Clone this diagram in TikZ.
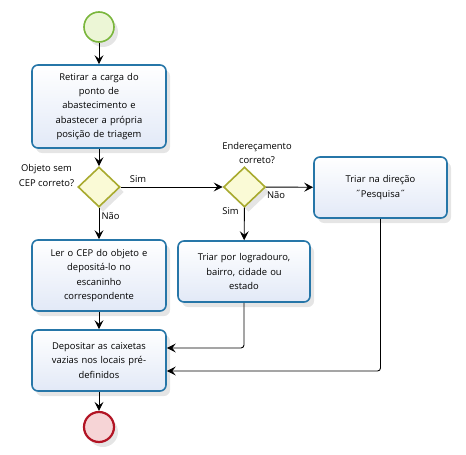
\documentclass[tikz,border=0pt]{standalone}
\usepackage{fontspec}
\setmainfont{Open Sans}
\usetikzlibrary{shapes.geometric,arrows.meta,shadows,backgrounds,calc}
\definecolor{boxborder}{RGB}{38,118,168}
\definecolor{boxfill}{RGB}{226,233,247}
\definecolor{gwborder}{RGB}{168,170,46}
\definecolor{gwfill}{RGB}{250,250,214}
\definecolor{stborder}{RGB}{122,182,60}
\definecolor{stfill}{RGB}{236,246,214}
\definecolor{enborder}{RGB}{178,20,36}
\definecolor{enfill}{RGB}{246,212,214}
\definecolor{shcol}{RGB}{232,232,232}
\tikzset{
  x=1pt, y=-1pt,
  every node/.style={font=\fontsize{9.4}{14.4}\selectfont},
  softshadow/.style={drop shadow={shadow xshift=4pt, shadow yshift=-5pt, fill=black, opacity=0.10}},
  taskbox/.style={draw=boxborder, line width=1.6pt, rounded corners=6pt,
    top color=white, bottom color=boxfill, align=center, inner sep=2pt, softshadow},
  gateway/.style={diamond, draw=gwborder, line width=1.6pt, fill=gwfill,
    minimum width=42pt, minimum height=40pt, inner sep=0pt, softshadow},
  startev/.style={circle, draw=stborder, line width=1.6pt, fill=stfill,
    minimum size=30pt, inner sep=0pt, softshadow},
  endev/.style={circle, draw=enborder, line width=2.2pt, fill=enfill,
    minimum size=30pt, inner sep=0pt, softshadow},
  conn/.style={draw=black, line width=0.9pt, rounded corners=3pt,
    -{Stealth[length=9pt,width=9pt,inset=3.5pt]}},
  connsh/.style={draw=shcol, line width=0.9pt, rounded corners=3pt,
    -{Stealth[length=9pt,width=9pt,inset=3.5pt]}},
  lbl/.style={align=center, inner sep=0pt}
}
\begin{document}
\begin{tikzpicture}
\useasboundingbox[fill=white] (0,0) rectangle (466,455);
\node[startev] (start) at (99,27) {};
\node[taskbox, minimum width=134pt, minimum height=83pt, text width=126pt] (b1) at (99,106.5)
  {Retirar a carga do\\ponto de\\abastecimento e\\abastecer a própria\\posição de triagem};
\node[gateway] (d1) at (99,187) {};
\node[gateway] (d2) at (244.5,187) {};
\node[taskbox, minimum width=133pt, minimum height=61pt, text width=125pt] (pesq) at (380.5,187.5)
  {Triar na direção\\˝Pesquisa˝};
\node[taskbox, minimum width=132pt, minimum height=61pt, text width=124pt] (triar) at (244,271.5)
  {Triar por logradouro,\\bairro, cidade ou\\estado};
\node[taskbox, minimum width=134pt, minimum height=71pt, text width=126pt] (ler) at (99,275.5)
  {Ler o CEP do objeto e\\depositá-lo no\\escaninho\\correspondente};
\node[taskbox, minimum width=134pt, minimum height=61pt, text width=126pt] (dep) at (99,360.5)
  {Depositar as caixetas\\vazias nos locais pré-\\definidos};
\node[endev] (end) at (99,427) {};

\node[lbl] (l1) at (46.5,175.5) {Objeto sem\\CEP correto?};
\node[lbl] (l2) at (257,153) {Endereçamento\\correto?};
\node[lbl] (s1) at (138,179.5) {Sim};
\node[lbl] (n1) at (110.5,216) {Não};
\node[lbl] (n2) at (276,195.5) {Não};
\node[lbl] (s2) at (230.5,211) {Sim};

\begin{scope}[on background layer]
\begin{scope}[transform canvas={shift={(9pt,-9pt)}}]
\draw[connsh] (start) -- (b1);
\draw[connsh] (b1) -- (d1);
\draw[connsh] (d1) -- (d2);
\draw[connsh] (d1) -- (ler);
\draw[connsh] (d2) -- (pesq);
\draw[connsh] (d2) -- (triar);
\draw[connsh] (ler) -- (dep);
\draw[connsh] (triar.south) |- (dep.east |- 0,348);
\draw[connsh] (pesq.south) |- (dep.east |- 0,371);
\draw[connsh] (dep) -- (end);
\end{scope}
\end{scope}

\draw[conn] (start) -- (b1);
\draw[conn] (b1) -- (d1);
\draw[conn] (d1) -- (d2);
\draw[conn] (d1) -- (ler);
\draw[conn] (d2) -- (pesq);
\draw[conn] (d2) -- (triar);
\draw[conn] (ler) -- (dep);
\draw[conn] (triar.south) |- (dep.east |- 0,348);
\draw[conn] (pesq.south) |- (dep.east |- 0,371);
\draw[conn] (dep) -- (end);
\end{tikzpicture}
\end{document}
